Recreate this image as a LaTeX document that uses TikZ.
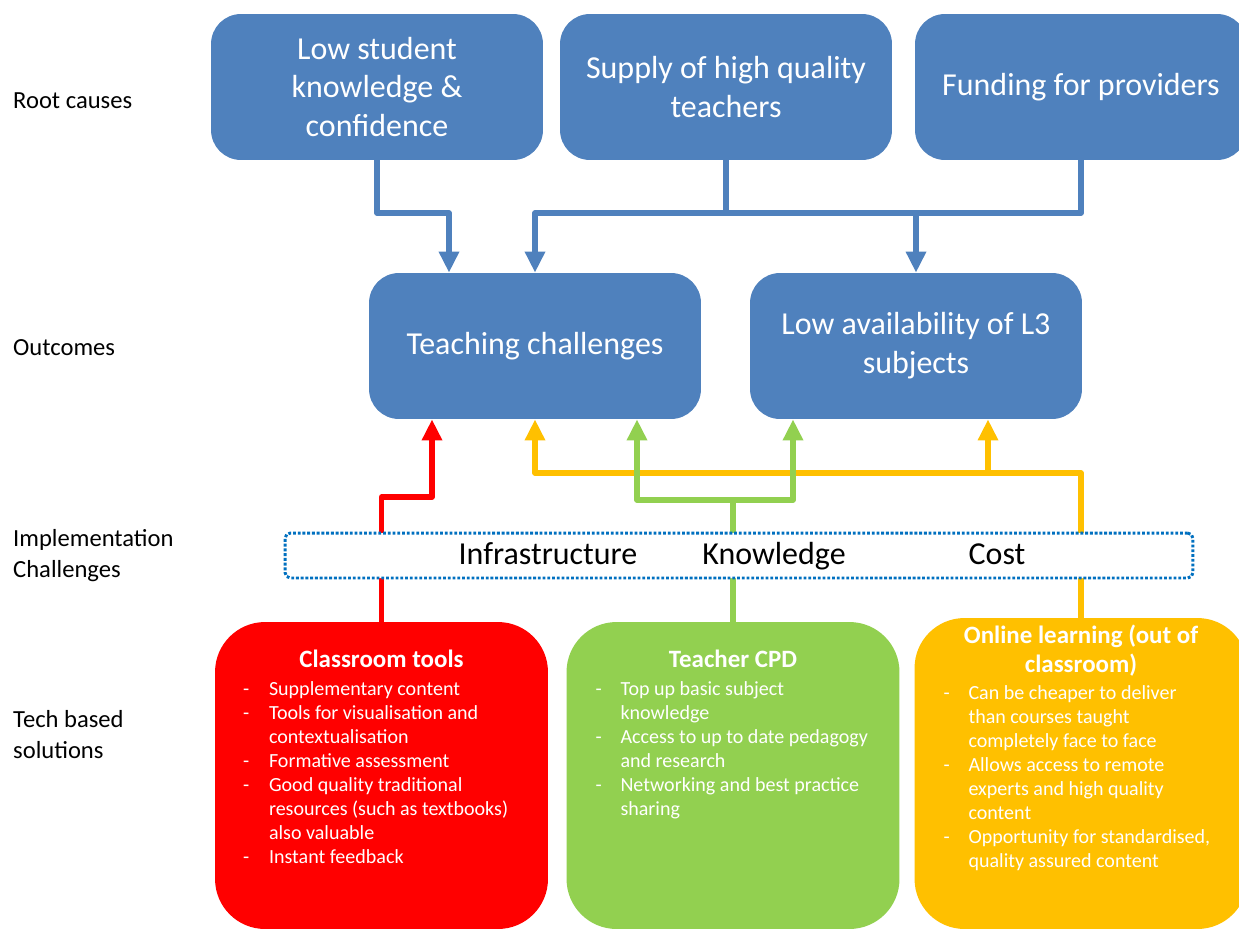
\documentclass[tikz,border=0pt]{standalone}
\usepackage{fontspec}
\setmainfont{Carlito}
\usetikzlibrary{positioning,arrows.meta,calc}

\definecolor{boxblue}{HTML}{4F81BD}
\definecolor{solred}{HTML}{FF0000}
\definecolor{solgreen}{HTML}{92D050}
\definecolor{solyellow}{HTML}{FFC000}
\definecolor{dotblue}{HTML}{0070C0}

\newcommand{\bigtxt}{\fontsize{18.2}{22.1}\selectfont}
\newcommand{\sidetxt}{\fontsize{14}{17.6}\selectfont}
\newcommand{\listtxt}{\fontsize{11.4}{13.6}\selectfont}
\newcommand{\titletxt}{\fontsize{14.2}{16.5}\selectfont\bfseries}

\begin{document}
\begin{tikzpicture}[x=0.02cm,y=-0.02cm,
    causebox/.style={fill=boxblue,rounded corners=0.6cm,minimum width=6.64cm,
        minimum height=2.92cm,text=white,align=center,font=\bigtxt},
    solbox/.style={rounded corners=1cm,minimum width=6.66cm,minimum height=6.14cm},
    sidelabel/.style={anchor=west,align=left,font=\sidetxt},
    soltitle/.style={anchor=north,text=white,align=center,font=\titletxt,inner sep=0pt},
    sollist/.style={anchor=north west,text=white,font=\listtxt,inner sep=0pt},
    challenge/.style={anchor=base,font=\bigtxt,inner sep=0pt},
    link/.style={line width=3pt,line join=round},
    linkarrow/.style={link,-{Triangle[width=11pt,length=12pt]}},
    dotbox/.style={draw=dotblue,fill=white,line width=1.7pt,dash pattern=on 1.6pt off 1.1pt,
        rounded corners=3pt,minimum width=18.16cm,minimum height=0.9cm}]

    % Fond
    \useasboundingbox[fill=white] (0,0) rectangle (1239,929);

    % Etiquettes
    \node[sidelabel] (lroot) at (7,101) {Root causes};
    \node[sidelabel] (lout) at (7,348) {Outcomes};
    \node[sidelabel] (limpl) at (7,556) {Implementation\\Challenges};
    \node[sidelabel] (ltech) at (7,735) {Tech based\\solutions};

    % Causes
    \node[causebox] (root1) at (377,87) {Low student\\knowledge \&\\confidence};
    \node[causebox] (root2) at (726,87) {Supply of high quality\\teachers};
    \node[causebox] (root3) at (1081,87) {Funding for providers};

    % Resultats
    \node[causebox] (teach) at (535,346) {Teaching challenges};
    \node[causebox] (avail) at (916,346) {Low availability of L3\\subjects};

    % Fleches bleues
    \coordinate (b1) at (449,213);
    \draw[linkarrow,boxblue] (root1.south) |- (b1) -- (b1 |- teach.north);
    \draw[link,boxblue] (root2.south) -- (root2.south |- b1);
    \draw[linkarrow,boxblue] (root3.south) |- (teach.north |- b1) -- (teach.north);
    \draw[linkarrow,boxblue] (avail.north |- b1) -- (avail.north);

    % Solutions
    \node[solbox,fill=solred] (tools) at (381.5,775.5) {};
    \node[solbox,fill=solgreen] (cpd) at (733,775.5) {};
    \node[solbox,fill=solyellow,minimum height=6.22cm] (online) at (1081,773.5) {};

    \node[soltitle] (tooltitle) at ($(tools.north)+(0,28)$) {Classroom tools};
    \node[sollist] (toollist) at ($(tools.north west)+(28,57)$) {%
        \begin{tabular}{@{}p{0.52cm}@{}l@{}}
        - & Supplementary content\\
        - & Tools for visualisation and\\
          & contextualisation\\
        - & Formative assessment\\
        - & Good quality traditional\\
          & resources (such as textbooks)\\
          & also valuable\\
        - & Instant feedback
        \end{tabular}};

    \node[soltitle] (cpdtitle) at ($(cpd.north)+(0,28)$) {Teacher CPD};
    \node[sollist] (cpdlist) at ($(cpd.north west)+(29,57)$) {%
        \begin{tabular}{@{}p{0.5cm}@{}l@{}}
        - & Top up basic subject\\
          & knowledge\\
        - & Access to up to date pedagogy\\
          & and research\\
        - & Networking and best practice\\
          & sharing
        \end{tabular}};

    \node[soltitle] (onlinetitle) at ($(online.north)+(0,7)$) {Online learning (out of\\classroom)};
    \node[sollist] (onlinelist) at ($(online.north west)+(29,65)$) {%
        \begin{tabular}{@{}p{0.5cm}@{}l@{}}
        - & Can be cheaper to deliver\\
          & than courses taught\\
          & completely face to face\\
        - & Allows access to remote\\
          & experts and high quality\\
          & content\\
        - & Opportunity for standardised,\\
          & quality assured content
        \end{tabular}};

    % Fleches de couleur
    \coordinate (r1) at (432,497);
    \coordinate (y1) at (988,473);
    \coordinate (g1) at (637,500);
    \coordinate (g2) at (793,500);
    \draw[linkarrow,solred] (tools.north) |- (r1) -- (r1 |- teach.south);
    \draw[linkarrow,solyellow] (online.north) |- (teach.south |- y1) -- (teach.south);
    \draw[linkarrow,solyellow] (y1) -- (y1 |- avail.south);
    \draw[link,solgreen] (cpd.north) -- (cpd.north |- g1);
    \draw[linkarrow,solgreen] (cpd.north |- g1) -| (g1 |- teach.south);
    \draw[linkarrow,solgreen] (cpd.north |- g1) -| (g2 |- avail.south);

    % Defis de mise en oeuvre
    \node[dotbox] (impl) at (739,555.5) {};
    \node[challenge] (infra) at (548,564) {Infrastructure};
    \node[challenge] (know) at (774,564) {Knowledge};
    \node[challenge] (cost) at (997,564) {Cost};
\end{tikzpicture}
\end{document}
